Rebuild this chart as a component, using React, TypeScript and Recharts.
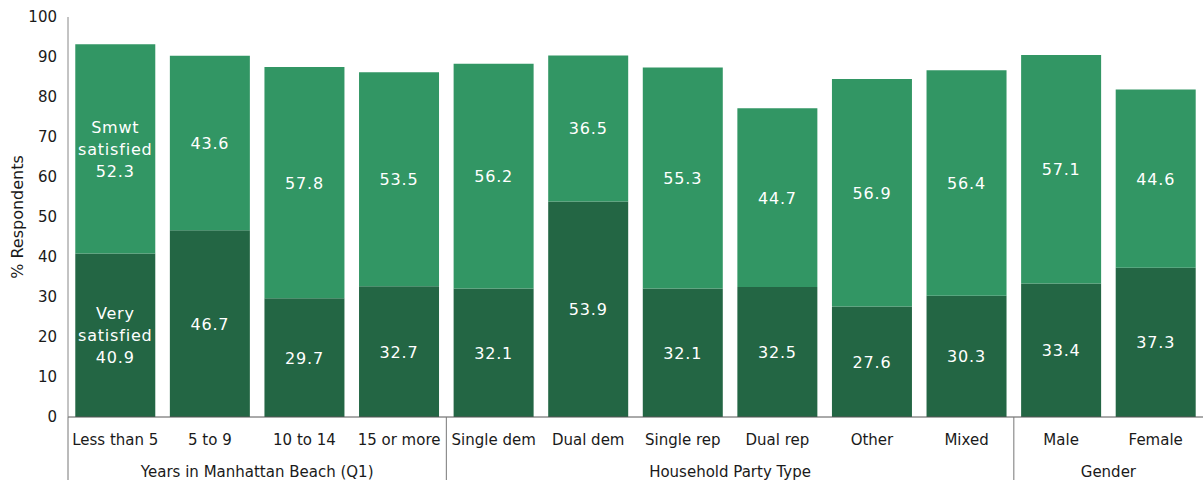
import { BarChart, Bar, XAxis, YAxis, LabelList } from 'recharts'

const CATEGORIES = [
  'Less than 5', '5 to 9', '10 to 14', '15 or more',
  'Single dem', 'Dual dem', 'Single rep', 'Dual rep', 'Other', 'Mixed',
  'Male', 'Female',
]
const GROUP_NAMES = ['Years in Manhattan Beach (Q1)', 'Household Party Type', 'Gender']
const GROUP_SIZES = [4, 6, 2]
const VERY_SATISFIED = [40.9, 46.7, 29.7, 32.7, 32.1, 53.9, 32.1, 32.5, 27.6, 30.3, 33.4, 37.3]
const SMWT_SATISFIED = [52.3, 43.6, 57.8, 53.5, 56.2, 36.5, 55.3, 44.7, 56.9, 56.4, 57.1, 44.6]
const Y_TICKS = [0, 10, 20, 30, 40, 50, 60, 70, 80, 90, 100]

const W = 1203
const H = 480
const MARGIN = { top: 17, right: 0, bottom: 0, left: 0 }
const X_AXIS_H = 63
const Y_AXIS_W = 68
const AXIS_Y = H - X_AXIS_H
const BAND = (W - Y_AXIS_W - MARGIN.left - MARGIN.right) / CATEGORIES.length
const FONT = '"DejaVu Sans", Verdana, sans-serif'

const DARK = '#236644'
const LIGHT = '#329664'

const data = CATEGORIES.map((name, i) => ({
  name,
  very: VERY_SATISFIED[i],
  smwt: SMWT_SATISFIED[i],
}))

// first index of each group -> group index
const groupStarts: Record<number, number> = {}
GROUP_SIZES.reduce((start, size, g) => {
  groupStarts[start] = g
  return start + size
}, 0)

function CategoryTick(props: any) {
  const { x, index, payload } = props
  const g = groupStarts[index]
  return (
    <g>
      <text x={x} y={AXIS_Y + 23} textAnchor="middle" dominantBaseline="central"
        fontFamily={FONT} fontSize={15} fill="#1a1a1a">
        {payload.value}
      </text>
      {g !== undefined && (
        <>
          <line x1={x - BAND / 2} x2={x - BAND / 2} y1={AXIS_Y} y2={H} stroke="#777" strokeWidth={1} />
          <text x={x + ((GROUP_SIZES[g] - 1) / 2) * BAND} y={AXIS_Y + 55} textAnchor="middle"
            dominantBaseline="central" fontFamily={FONT} fontSize={15} fill="#1a1a1a">
            {GROUP_NAMES[g]}
          </text>
        </>
      )}
    </g>
  )
}

function YTitle(props: any) {
  const { viewBox } = props
  const cx = 17
  const cy = viewBox.y + viewBox.height / 2
  return (
    <text x={cx} y={cy} transform={`rotate(-90, ${cx}, ${cy})`} textAnchor="middle"
      dominantBaseline="central" fontFamily={FONT} fontSize={16} fill="#1a1a1a">
      % Respondents
    </text>
  )
}

function segmentLabel(seriesName: string) {
  return (props: any) => {
    const { x, y, width, height, value, index } = props
    const cx = x + width / 2
    const cy = y + height / 2
    const lines = index === 0 ? [...seriesName.split(' '), String(value)] : [String(value)]
    const start = cy - ((lines.length - 1) * 22) / 2
    return (
      <text textAnchor="middle" dominantBaseline="central" fontFamily={FONT}
        fontSize={16} letterSpacing={0.8} fill="#ffffff">
        {lines.map((t, i) => (
          <tspan key={i} x={cx} y={start + i * 22}>{t}</tspan>
        ))}
      </text>
    )
  }
}

export default function App() {
  return (
    <div style={{ position: 'absolute', left: 0, top: 0, background: '#fff' }}>
      <BarChart width={W} height={H} data={data} margin={MARGIN} barCategoryGap="7.7%">
        <XAxis dataKey="name" stroke="#555" tickLine={false} interval={0}
          height={X_AXIS_H} tick={<CategoryTick />} />
        <YAxis domain={[0, 100]} ticks={Y_TICKS} width={Y_AXIS_W} stroke="#888"
          tickLine={false} tickMargin={5} interval={0}
          tick={{ fontFamily: FONT, fontSize: 15, fill: '#1a1a1a' }}
          label={<YTitle />} />
        <Bar dataKey="very" stackId="a" fill={DARK} isAnimationActive={false}>
          <LabelList dataKey="very" content={segmentLabel('Very satisfied')} />
        </Bar>
        <Bar dataKey="smwt" stackId="a" fill={LIGHT} isAnimationActive={false}>
          <LabelList dataKey="smwt" content={segmentLabel('Smwt satisfied')} />
        </Bar>
      </BarChart>
    </div>
  )
}
